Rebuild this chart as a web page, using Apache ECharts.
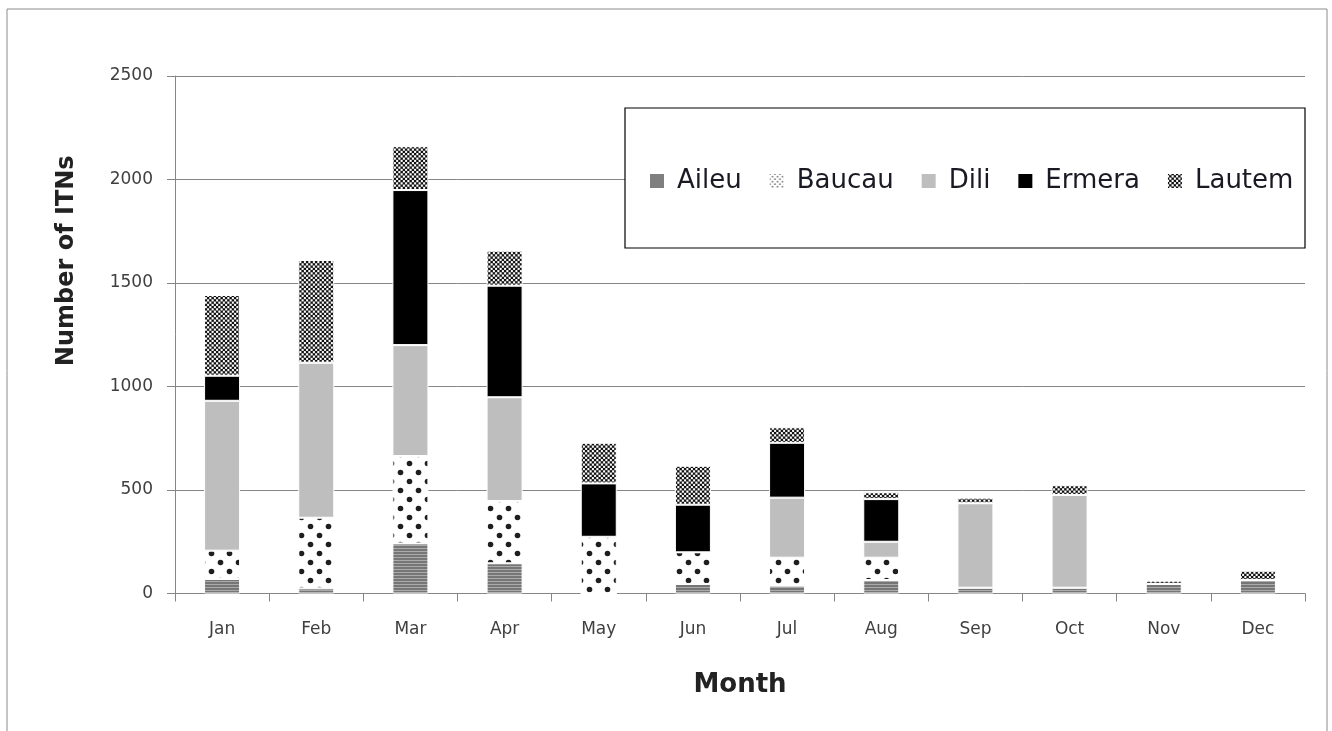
<!DOCTYPE html>
<html><head><meta charset="utf-8">
<script src="https://cdn.jsdelivr.net/npm/echarts@6/dist/echarts.min.js"></script>
<style>html,body{margin:0;padding:0;background:#fff}#c{width:1332px;height:731px}</style>
</head><body><div id="c"></div>
<script>
const months = ['Jan','Feb','Mar','Apr','May','Jun','Jul','Aug','Sep','Oct','Nov','Dec'];
const aileu  = [70, 25, 242, 146, 0, 46, 38, 65, 28, 28, 46, 65];
const baucau = [137, 341, 422, 301, 274, 153, 135, 108, 0, 0, 0, 0];
const dili   = [724, 749, 536, 501, 0, 0, 290, 77, 408, 448, 0, 0];
const ermera = [121, 0, 749, 539, 258, 230, 265, 206, 0, 0, 0, 0];
const lautem = [390, 496, 212, 169, 196, 188, 75, 33, 27, 47, 16, 45];
const yTicks = [0, 500, 1000, 1500, 2000, 2500];

function tile(w, h, draw) {
  const c = document.createElement('canvas'); c.width = w; c.height = h;
  const g = c.getContext('2d'); draw(g); return c;
}
function dots(g, pts, r, col) { g.fillStyle = col; pts.forEach(p => { g.beginPath(); g.arc(p[0], p[1], r, 0, Math.PI*2); g.fill(); }); }
const pAileu = tile(4, 3, g => { g.fillStyle = '#767676'; g.fillRect(0,0,4,3); g.fillStyle = '#aaaaaa'; g.fillRect(0,2,4,1); });
const pBaucau = tile(18, 18, g => { g.fillStyle = '#fff'; g.fillRect(0,0,18,18); dots(g, [[4.5,4.5],[13.5,13.5]], 2.8, '#1e1e1e'); });
const pBaucauIcon = tile(5, 5, g => { g.fillStyle = '#fff'; g.fillRect(0,0,5,5); dots(g, [[1.2,1.2],[3.7,3.7]], 0.9, '#777'); });
const pLautem = tile(9, 9, g => {
  g.fillStyle = '#8a8a8a'; g.fillRect(0,0,9,9);
  const c = 2.25, blk = [], wht = [];
  for (let i = 0; i < 4; i++) for (let j = 0; j < 4; j++) ((i + j) % 2 ? wht : blk).push([c*i + c/2, c*j + c/2]);
  dots(g, blk, 1.35, '#111'); dots(g, wht, 1.05, '#fff');
});

const font = '"DejaVu Sans", sans-serif';
function ser(name, data, color) {
  return { name, type: 'bar', stack: 'all', data, barWidth: 36,
    itemStyle: { color, borderColor: '#fff', borderWidth: 1 } };
}
const chart = echarts.init(document.getElementById('c'), null, { renderer: 'canvas' });
chart.setOption({
  animation: false,
  backgroundColor: '#fff',
  grid: { left: 175, right: 27, top: 76, bottom: 137.5 },
  graphic: [
    { type: 'rect', shape: { x: 7, y: 9, width: 1320, height: 740 }, style: { fill: 'none', stroke: '#8c8c8c', lineWidth: 1 }, z: -1 },
    { type: 'rect', shape: { x: 625, y: 108, width: 680, height: 140 }, style: { fill: '#fff', stroke: '#000', lineWidth: 1.2 }, z: 5 }
  ],
  legend: {
    left: 643, top: 163, z: 10, icon: 'rect', itemWidth: 16, itemHeight: 16, itemGap: 26,
    textStyle: { fontFamily: font, fontSize: 26, color: '#1a1a24', padding: [0, 0, 0, 7] },
    data: [
      { name: 'Aileu', itemStyle: { color: '#7f7f7f' } },
      { name: 'Baucau', itemStyle: { color: { image: pBaucauIcon, repeat: 'repeat' } } },
      { name: 'Dili' }, { name: 'Ermera' }, { name: 'Lautem' }
    ]
  },
  xAxis: {
    type: 'category', data: months, name: 'Month', nameLocation: 'middle', nameGap: 79,
    nameTextStyle: { fontFamily: font, fontSize: 26, fontWeight: 'bold', color: '#222' },
    axisLine: { lineStyle: { color: '#868686' } },
    axisTick: { show: true, length: 8, lineStyle: { color: '#868686' } },
    axisLabel: { fontFamily: font, fontSize: 17, color: '#404040', margin: 28 }
  },
  yAxis: {
    type: 'value', min: yTicks[0], max: yTicks[yTicks.length-1], interval: 500,
    name: 'Number of ITNs', nameLocation: 'middle', nameGap: 96,
    nameTextStyle: { fontFamily: font, fontSize: 24, fontWeight: 'bold', color: '#222', padding: [0, 0, 0, 148] },
    axisLine: { show: true, lineStyle: { color: '#868686' } },
    axisTick: { show: true, length: 8, lineStyle: { color: '#868686' } },
    axisLabel: { fontFamily: font, fontSize: 17, color: '#404040', margin: 22, formatter: v => String(v) },
    splitLine: { lineStyle: { color: '#868686' } }
  },
  series: [
    ser('Aileu', aileu, { image: pAileu, repeat: 'repeat' }),
    ser('Baucau', baucau, { image: pBaucau, repeat: 'repeat' }),
    ser('Dili', dili, '#bebebe'),
    ser('Ermera', ermera, '#000'),
    ser('Lautem', lautem, { image: pLautem, repeat: 'repeat' })
  ]
});
</script></body></html>
